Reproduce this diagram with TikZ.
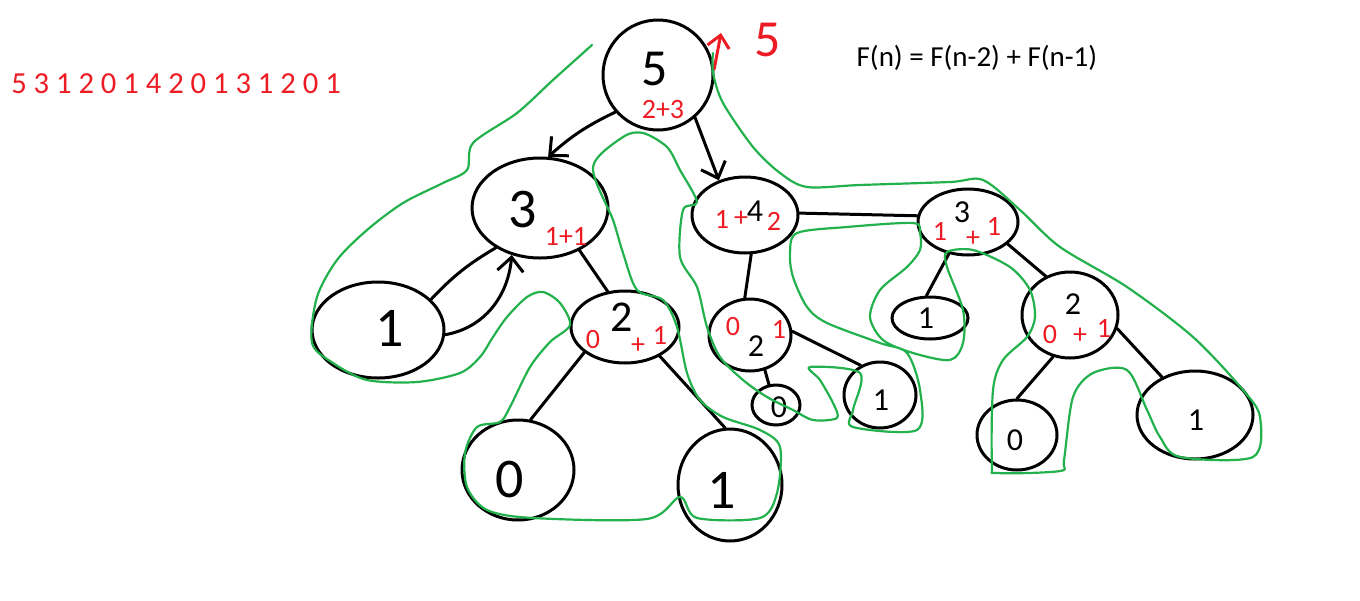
\documentclass[tikz,border=0pt]{standalone}
\usepackage{fontspec}
\setmainfont{Carlito}
\usetikzlibrary{shapes.geometric,arrows.meta}
\definecolor{pred}{RGB}{237,28,36}
\definecolor{pgreen}{RGB}{34,177,76}
\begin{document}
\begin{tikzpicture}[x=0.5pt,y=-0.5pt,
  blob/.style={draw=black, line width=1.5pt, ellipse, inner sep=0pt},
  edge/.style={draw=black, line width=1.5pt, line cap=round},
  barb/.style={-{Straight Barb[length=7pt,width=13pt,line width=1.5pt]}},
  tour/.style={draw=pgreen, line width=1.1pt, line cap=round, line join=round},
  dig/.style={text=black, font=\fontsize{28}{28}\selectfont, inner sep=0pt},
  sdig/.style={text=black, font=\fontsize{16}{16}\selectfont, inner sep=0pt},
  rd/.style={text=pred, font=\fontsize{14}{14}\selectfont, inner sep=0pt},
  txt/.style={font=\fontsize{14.5}{14.5}\selectfont, inner sep=0pt}
]
\useasboundingbox (0,0) rectangle (1360,600);

% header texts
\node[txt, text=pred, font=\fontsize{15.3}{15.3}\selectfont] (seq) at (176,84) {5 3 1 2 0 1 4 2 0 1 3 1 2 0 1};
\node[txt, text=black] (formula) at (977,58) {F(n) = F(n-2) + F(n-1)};

% nodes (shapes)
\node[blob, circle, minimum size=55pt] (r5) at (658,75) {};
\node[blob, minimum width=68pt, minimum height=50pt] (a3) at (540,208) {};
\node[blob, minimum width=66pt, minimum height=48pt] (b1) at (378,330) {};
\node[blob, minimum width=54pt, minimum height=36pt] (c2) at (625,327) {};
\node[blob, minimum width=56pt, minimum height=50pt] (d0) at (518,470) {};
\node[blob, minimum width=52pt, minimum height=56pt] (e1) at (730,485) {};
\node[blob, minimum width=53pt, minimum height=38pt] (f4) at (745,215) {};
\node[blob, minimum width=41pt, minimum height=36pt] (g2) at (750,335) {};
\node[blob, minimum width=24pt, minimum height=20pt] (h0) at (776,405) {};
\node[blob, minimum width=36pt, minimum height=33pt] (i1) at (880,395) {};
\node[blob, minimum width=50pt, minimum height=33pt] (j3) at (968,222) {};
\node[blob, minimum width=38pt, minimum height=21pt] (k1) at (930,318) {};
\node[blob, minimum width=48pt, minimum height=43pt] (l2) at (1070,315) {};
\node[blob, minimum width=40pt, minimum height=35pt] (m0) at (1017,435) {};
\node[blob, minimum width=58pt, minimum height=44pt] (n1) at (1195,415) {};

% node labels
\node[dig, font=\fontsize{26}{26}\selectfont] (t5) at (655,69) {5};
\node[rd] (t5r) at (663,110) {2+3};
\node[dig] (t3) at (523,210) {3};
\node[rd] (t3r) at (566,236) {1+1};
\node[dig] (tb1) at (390,328) {1};
\node[dig, font=\fontsize{22}{22}\selectfont] (tc2) at (622,317) {2};
\node[rd] (tc2a) at (593,340) {0};
\node[rd] (tc2b) at (638,346) {+};
\node[rd] (tc2c) at (660,335) {1};
\node[dig] (td0) at (510,480) {0};
\node[dig] (te1) at (722,490) {1};
\node[rd] (tf4a) at (722,219) {1};
\node[rd] (tf4b) at (741,219) {+};
\node[sdig] (tf4c) at (755,211) {4};
\node[rd] (tf4d) at (774,221) {2};
\node[rd] (tg2a) at (733,327) {0};
\node[rd] (tg2b) at (779,329) {1};
\node[sdig] (tg2c) at (756,346) {2};
\node[sdig] (th0) at (779,407) {0};
\node[sdig] (ti1) at (881,400) {1};
\node[rd] (tj3a) at (940,231) {1};
\node[sdig] (tj3b) at (962,212) {3};
\node[rd] (tj3c) at (973,239) {+};
\node[rd] (tj3d) at (994,226) {1};
\node[sdig] (tk1) at (926,318) {1};
\node[sdig] (tl2) at (1073,304) {2};
\node[rd] (tl2a) at (1050,335) {0};
\node[rd] (tl2b) at (1080,336) {+};
\node[rd] (tl2c) at (1104,328) {1};
\node[sdig] (tm0) at (1015,440) {0};
\node[sdig] (tn1) at (1196,420) {1};

% red result arrow near root
\coordinate (upend) at (721,33);
\draw[pred, line width=1.5pt, line cap=round, -{Straight Barb[length=6pt,width=11pt,line width=1.5pt]}] (r5.6) -- (upend);
\node[text=pred, font=\fontsize{26}{26}\selectfont, inner sep=0pt] (res) at (768,40) {5};

% connectors
\draw[edge, barb] (r5.-139) to[bend right=8] (a3.81);
\draw[edge, barb] (r5.-49) -- (f4.127);
\draw[edge] (b1.30) to[bend left=8] (a3.-138);
\draw[edge, barb] (b1.-4) to[out=10, in=-95] (a3.-121);
\draw[edge] (a3.-47) -- (c2.116);
\draw[edge] (c2.-148) -- (d0.76);
\draw[edge] (c2.-40) -- (e1.95);
\draw[edge] (f4.2) -- (j3.173);
\draw[edge] (f4.-81) -- (g2.98);
\draw[edge] (g2.-67) -- (h0.109);
\draw[edge] (g2.5) -- (i1.123);
\draw[edge] (j3.-121) -- (k1.99);
\draw[edge] (j3.-29) -- (l2.122);
\draw[edge] (l2.-112) -- (m0.90);
\draw[edge] (l2.-16) -- (n1.131);

% green tour
\draw[tour] plot[smooth, tension=0.5] coordinates {
(592,45) (553,80) (517,113) (473,143) (467,170) (443,183) (403,203) (367,230)
(337,260) (317,297) (312,343) (333,363) (367,380) (417,382) (460,373) (480,357)
(493,337) (507,317) (527,297) (543,292) (560,303) (570,325) (550,342) (530,367)
(510,407) (500,422) (477,427) (465,453) (467,487) (487,510) (533,518) (647,519)
(680,497) (697,518) (760,518) (777,493) (780,447) (760,430) (723,417) (700,400)
(687,373) (677,327) (663,300) (637,290) (623,253) (613,220) (593,167) (623,137)
(643,133) (667,147) (680,170) (697,202) (683,210) (680,257) (697,287) (707,327)
(720,357) (743,380) (767,397) (793,410) (813,420) (837,418) (833,403) (820,380)
(810,367) (860,373) (853,410) (853,427) (917,430) (920,390) (907,353) (880,343)
(827,323) (807,307) (793,277) (790,253) (797,233) (847,227) (913,223) (920,233)
(920,250) (907,267) (880,290) (870,317) (883,340) (913,353) (950,360) (963,343)
(963,310) (947,267) (947,252) (973,250) (1010,267) (1030,290) (1035,317) (1027,337)
(1003,360) (993,390) (992,465) (998,473) (1060,471) (1064,460) (1073,397) (1093,373)
(1127,370) (1147,410) (1160,437) (1180,457) (1253,457) (1260,417) (1243,390) (1193,337)
(1127,287) (1060,247) (1020,210) (983,180) (950,182) (860,185) (807,187) (780,173)
(753,147) (723,103) (713,73) (713,53)};
\end{tikzpicture}
\end{document}
